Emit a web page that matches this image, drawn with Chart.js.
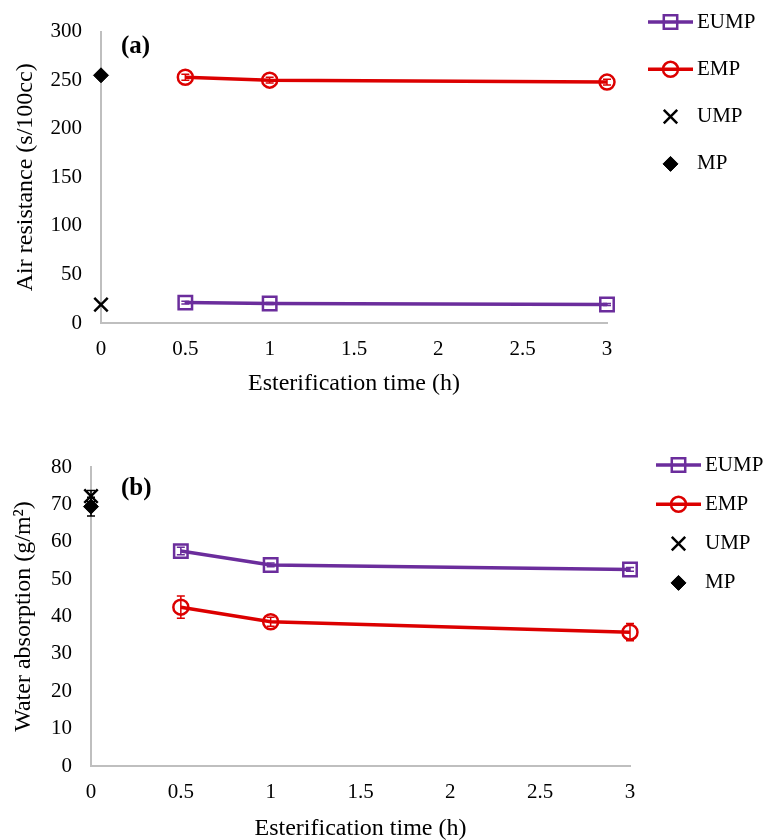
<!DOCTYPE html>
<html>
<head>
<meta charset="utf-8">
<script src="https://cdn.jsdelivr.net/npm/chart.js@4.4.1/dist/chart.umd.min.js"></script>
<style>
  html, body { margin: 0; padding: 0; background: #fff; overflow: hidden; }
  #wrap { position: relative; width: 764px; height: 840px; }
  .panel { position: absolute; left: 0; width: 764px; }
  #panelA { top: 0; height: 420px; }
  #panelB { top: 420px; height: 440px; }
</style>
</head>
<body>
<div id="wrap">
  <div class="panel" id="panelA"><canvas id="chartA"></canvas></div>
  <div class="panel" id="panelB"><canvas id="chartB"></canvas></div>
</div>
<script>
// esterification times (h)
const TIMES = [0.5, 1, 3];
const CONTROL_TIME = [0];
const X_TICKS = [0, 0.5, 1, 1.5, 2, 2.5, 3];

const SERIES = ["EUMP", "EMP", "UMP", "MP"];

// (a) air resistance, s/100cc
const AIR_TICKS = [0, 50, 100, 150, 200, 250, 300];
const AIR_EUMP = [21, 20, 19];
const AIR_EUMP_ERR = [1.5, 1, 1];
const AIR_EMP = [253, 250, 248];
const AIR_EMP_ERR = [3, 3, 3];
const AIR_UMP = [19];
const AIR_UMP_ERR = [0];
const AIR_MP = [255];
const AIR_MP_ERR = [3];

// (b) water absorption, g/m2
const WATER_TICKS = [0, 10, 20, 30, 40, 50, 60, 70, 80];
const WATER_EUMP = [57.5, 53.8, 52.6];
const WATER_EUMP_ERR = [1, 0.5, 0.5];
const WATER_EMP = [42.5, 38.6, 35.8];
const WATER_EMP_ERR = [3, 1.2, 2.3];
const WATER_UMP = [72.2];
const WATER_UMP_ERR = [1.5];
const WATER_MP = [69.4];
const WATER_MP_ERR = [2.5];

const FONT = "'Liberation Serif', 'Times New Roman', serif";
const PURPLE = "#6B2D9C";
const RED = "#DC0000";
const AXIS_GRAY = "#BFBFBF";
const NO_FILL = "rgba(0,0,0,0)";

function toPoints(xs, ys, errs) {
  return ys.map((v, i) => ({ x: xs[i], y: v, err: errs[i] }));
}

function buildDatasets(eump, eumpErr, emp, empErr, ump, umpErr, mp, mpErr) {
  return [
    {
      label: SERIES[0], data: toPoints(TIMES, eump, eumpErr),
      borderColor: PURPLE, borderWidth: 3.5, showLine: true,
      pointStyle: "rect", pointRadius: 9.5, pointBorderWidth: 2.5,
      pointBorderColor: PURPLE, pointBackgroundColor: NO_FILL,
    },
    {
      label: SERIES[1], data: toPoints(TIMES, emp, empErr),
      borderColor: RED, borderWidth: 3.5, showLine: true,
      pointStyle: "circle", pointRadius: 7.5, pointBorderWidth: 2.5,
      pointBorderColor: RED, pointBackgroundColor: NO_FILL,
    },
    {
      label: SERIES[2], data: toPoints(CONTROL_TIME, ump, umpErr),
      borderColor: "#000", borderWidth: 0, showLine: false,
      pointStyle: "crossRot", pointRadius: 9.5, pointBorderWidth: 2.5,
      pointBorderColor: "#000", pointBackgroundColor: "#000",
    },
    {
      label: SERIES[3], data: toPoints(CONTROL_TIME, mp, mpErr),
      borderColor: "#000", borderWidth: 0, showLine: false,
      pointStyle: "rectRot", pointRadius: 7.5, pointBorderWidth: 1,
      pointBorderColor: "#000", pointBackgroundColor: "#000",
    },
  ].map((d) => Object.assign(d, { clip: false, tension: 0, pointHoverRadius: d.pointRadius }));
}

// vertical error bars, drawn from each point's err through the scales
const errorBarPlugin = {
  id: "errorBars",
  afterDatasetsDraw(chart) {
    const { ctx, scales: { x, y } } = chart;
    ctx.save();
    ctx.lineWidth = 1.5;
    chart.data.datasets.forEach((ds) => {
      ctx.strokeStyle = ds.pointBorderColor;
      ds.data.forEach((pt) => {
        if (!pt.err) return;
        const px = x.getPixelForValue(pt.x);
        const top = y.getPixelForValue(pt.y + pt.err);
        const bot = y.getPixelForValue(pt.y - pt.err);
        ctx.beginPath();
        ctx.moveTo(px, top); ctx.lineTo(px, bot);
        ctx.moveTo(px - 4, top); ctx.lineTo(px + 4, top);
        ctx.moveTo(px - 4, bot); ctx.lineTo(px + 4, bot);
        ctx.stroke();
      });
    });
    ctx.restore();
  },
};

// panel tag "(a)"/"(b)" and the Excel-style legend on the right
const decorPlugin = {
  id: "panelDecor",
  afterDraw(chart, args, opts) {
    const ctx = chart.ctx;
    ctx.save();
    ctx.textBaseline = "middle";
    ctx.textAlign = "left";
    ctx.fillStyle = "#000";
    ctx.font = "bold 25px " + FONT;
    ctx.fillText(opts.tag, opts.tagX, opts.tagY);

    ctx.font = "21px " + FONT;
    chart.data.datasets.forEach((ds, i) => {
      const y = opts.legendY + i * opts.legendGap;
      const x0 = opts.legendX;
      const x1 = x0 + 45;
      const xm = (x0 + x1) / 2;
      if (ds.showLine) {
        ctx.strokeStyle = ds.borderColor;
        ctx.lineWidth = ds.borderWidth;
        ctx.beginPath();
        ctx.moveTo(x0, y);
        ctx.lineTo(x1, y);
        ctx.stroke();
      }
      ctx.strokeStyle = ds.pointBorderColor;
      ctx.fillStyle = ds.pointBackgroundColor;
      ctx.lineWidth = ds.pointBorderWidth;
      Chart.helpers.drawPoint(ctx, {
        pointStyle: ds.pointStyle, radius: ds.pointRadius,
        borderWidth: ds.pointBorderWidth, rotation: 0,
      }, xm, y);
      ctx.fillStyle = "#000";
      ctx.fillText(ds.label, x1 + 4, y);
    });
    ctx.restore();
  },
};

function makeChart(canvasId, p) {
  return new Chart(document.getElementById(canvasId), {
    type: "line",
    data: { datasets: p.datasets },
    options: {
      responsive: true,
      maintainAspectRatio: false,
      animation: false,
      events: [],
      layout: { padding: { top: p.top, right: p.right, left: 0, bottom: 0 } },
      plugins: {
        legend: { display: false },
        tooltip: { enabled: false },
        panelDecor: p.decor,
      },
      scales: {
        x: {
          type: "linear", min: 0, max: 3,
          afterBuildTicks: (s) => { s.ticks = X_TICKS.map((v) => ({ value: v })); },
          afterFit: (s) => { s.height = p.xHeight; },
          grid: { display: false, drawTicks: false },
          border: { display: true, color: AXIS_GRAY, width: 2 },
          ticks: {
            color: "#000", font: { family: FONT, size: 21 }, padding: 14, maxRotation: 0,
            callback: (v) => String(v),
          },
          title: {
            display: true, text: "Esterification time (h)", color: "#000",
            font: { family: FONT, size: 24 }, padding: { top: 0, bottom: p.xTitlePad },
          },
        },
        y: {
          min: p.yTicks[0], max: p.yTicks[p.yTicks.length - 1],
          afterBuildTicks: (s) => { s.ticks = p.yTicks.map((v) => ({ value: v })); },
          afterFit: (s) => { s.width = p.yWidth; },
          grid: { display: false, drawTicks: false },
          border: { display: true, color: AXIS_GRAY, width: 2 },
          ticks: {
            color: "#000", font: { family: FONT, size: 21 }, padding: 19,
            callback: (v) => String(v),
          },
          title: {
            display: true, text: p.yTitle, color: "#000",
            font: { family: FONT, size: 24 }, padding: { top: p.yTitlePad, bottom: 0 },
          },
        },
      },
    },
    plugins: [errorBarPlugin, decorPlugin],
  });
}

makeChart("chartA", {
  datasets: buildDatasets(AIR_EUMP, AIR_EUMP_ERR, AIR_EMP, AIR_EMP_ERR, AIR_UMP, AIR_UMP_ERR, AIR_MP, AIR_MP_ERR),
  yTicks: AIR_TICKS,
  yTitle: "Air resistance (s/100cc)",
  top: 22, right: 157, yWidth: 101, xHeight: 97,
  xTitlePad: 22, yTitlePad: 11,
  decor: { tag: "(a)", tagX: 121, tagY: 47, legendX: 648, legendY: 22, legendGap: 47.3 },
});

makeChart("chartB", {
  datasets: buildDatasets(WATER_EUMP, WATER_EUMP_ERR, WATER_EMP, WATER_EMP_ERR, WATER_UMP, WATER_UMP_ERR, WATER_MP, WATER_MP_ERR),
  yTicks: WATER_TICKS,
  yTitle: "Water absorption (g/m²)",
  top: 47, right: 134, yWidth: 91, xHeight: 94,
  xTitlePad: 17, yTitlePad: 9,
  decor: { tag: "(b)", tagX: 121, tagY: 69, legendX: 656, legendY: 45, legendGap: 39.3 },
});
</script>
</body>
</html>
